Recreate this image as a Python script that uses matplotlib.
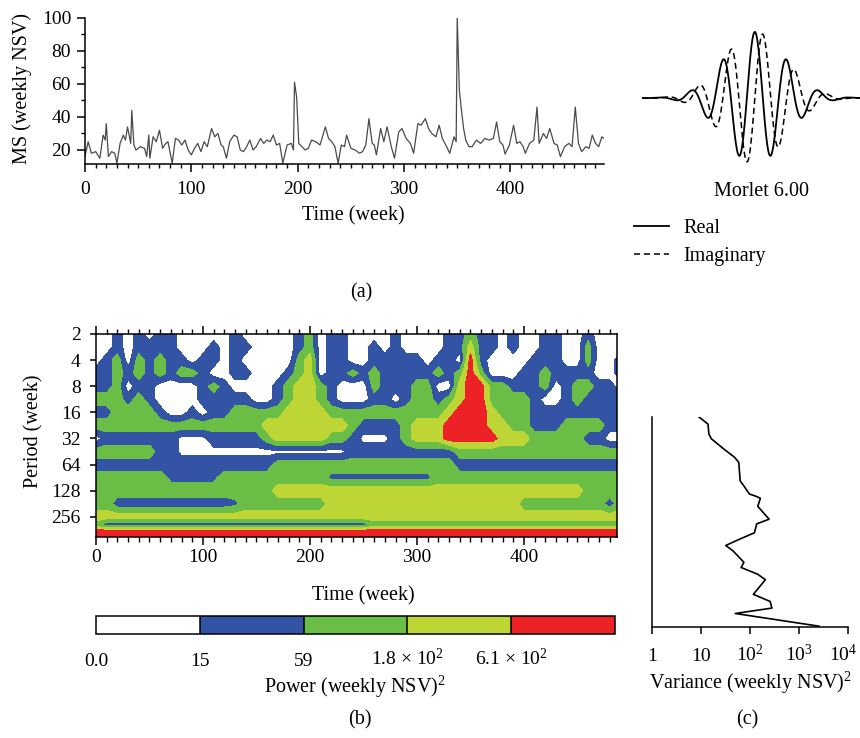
import numpy as np
import matplotlib
matplotlib.use('Agg')
import matplotlib.pyplot as plt
from matplotlib.lines import Line2D
from matplotlib.ticker import MultipleLocator, LogLocator, NullFormatter
from matplotlib.transforms import offset_copy

plt.rcParams['font.family'] = ['Liberation Serif', 'DejaVu Serif']
plt.rcParams['mathtext.fontset'] = 'custom'
plt.rcParams['mathtext.rm'] = 'Liberation Serif'
plt.rcParams['mathtext.it'] = 'Liberation Serif:italic'
plt.rcParams['mathtext.bf'] = 'Liberation Serif:bold'

# ---------------- data ----------------
# (a) weekly NSV series
ts_weeks = [0, 3, 6, 10, 14, 17, 19, 20, 22, 25, 28, 30, 33, 36, 38, 40, 43, 44, 46, 48,
            52, 56, 58, 60, 61, 64, 67, 70, 73, 76, 78, 82, 85, 88, 91, 94, 97, 100, 103,
            106, 109, 112, 115, 119, 122, 125, 128, 130, 133, 136, 140, 143, 146, 149,
            152, 155, 158, 161, 165, 168, 171, 174, 177, 180, 183, 186, 190, 194, 196,
            197, 199, 200, 201, 204, 207, 210, 213, 217, 221, 226, 229, 232, 235, 238,
            241, 244, 246, 250, 254, 258, 261, 264, 267, 270, 272, 274, 278, 281, 284,
            288, 291, 295, 298, 302, 306, 309, 313, 316, 320, 323, 326, 330, 333, 336,
            340, 343, 347, 349, 350, 351, 352, 354, 356, 358, 361, 364, 368, 372, 376,
            380, 384, 387, 390, 393, 395, 399, 403, 406, 409, 412, 414, 418, 422, 425,
            427, 431, 434, 437, 441, 444, 447, 451, 455, 458, 461, 464, 467, 471, 474,
            477, 480, 483, 486, 488]
ts_values = [16, 25, 18, 19, 15, 29, 26, 36, 16, 19, 18, 12, 24, 29, 26, 34, 24, 44, 23, 20,
             22, 21, 16, 29, 15, 28, 25, 32, 21, 24, 25, 12, 27, 26, 23, 26, 20, 17, 21,
             24, 19, 25, 22, 33, 28, 30, 23, 22, 15, 25, 29, 28, 20, 19,
             22, 26, 20, 22, 27, 24, 26, 25, 29, 23, 24, 12, 23, 24, 20,
             61, 52, 38, 24, 22, 20, 21, 26, 25, 23, 34, 27, 25, 22, 12,
             23, 22, 29, 21, 20, 18, 19, 23, 39, 24, 23, 17, 33, 25, 34,
             22, 15, 31, 33, 27, 24, 18, 36, 35, 39, 33, 30, 28, 35, 27,
             22, 18, 28, 25, 100, 79, 56, 44, 33, 26, 22, 22, 26, 24, 27,
             26, 27, 37, 25, 23, 17.5, 23, 35, 24, 25, 22, 18, 24, 26, 46,
             24, 30, 27, 33, 24, 23, 16, 22, 24, 22, 46, 24, 19, 22, 21,
             29, 24, 22, 28, 27]
time_ticks = [0, 100, 200, 300, 400]
ms_ticks = [20, 40, 60, 80, 100]

# Morlet wavelet parameter
morlet_w0 = 6.0

# (b) wavelet power class, weeks 0..490 step 10
# 0 white, 1 blue, 2 green, 3 yellow-green, 4 red; 'w' / 'b' = thin white / thin blue streak
grid_weeks = list(range(0, 500, 10))
period_rows = [2, 2.83, 4, 5.66, 8, 11.3, 16, 22.6, 32, 45.3, 64, 90.5, 128, 181,
               256, 315, 375, 437]
power_rows = [
    "0010101100" "0001000001" "2011000010" "0001121101" "0011001000",
    "0010111100" "0101100001" "2011001010" "0001131101" "0011002000",
    "0120212110" "1101000002" "3011001111" "1011041000" "0111002001",
    "1121212122" "1001100012" "3011212111" "1121242000" "1121111001",
    "1120110000" "1210000123" "3210002111" "2200344221" "1120122110",
    "2221210000" "1111100123" "3210001101" "2212344222" "2100121111",
    "1122221001" "0112222233" "3322222222" "2223444322" "2111111111",
    "2222222222" "2222223333" "3333211112" "3334444332" "2111222211",
    "01111111ww" "w111112333" "33221www12" "3334444433" "3222221100",
    "22222211ww" "wwwwwwwwww" "wwww111111" "1111222222" "2222222222",
    "1111111111" "1111111222" "2222222222" "2222111111" "1111111111",
    "2222222bbb" "bb22222222" "22bbbbbbbb" "bb22222222" "2222222222",
    "2222222222" "2222222333" "3333333333" "3333333333" "3333332222",
    "2211111111" "111b222222" "2233333333" "3333333333" "2222222212",
    "3333333333" "3333333333" "3333333333" "3333333333" "3333333333",
    "2111111111" "1111111111" "1111112222" "2222222222" "2222222222",
    "4444444444" "4444444444" "4444444444" "4444444444" "4444444444",
    "4444444444" "4444444444" "4444444444" "4444444444" "4444444444",
]
class_value = {'0': 0, '1': 1, '2': 2, '3': 3, '4': 4, 'w': 0.25, 'b': 1.25}
class_levels = [-0.5, 0.5, 1.5, 2.5, 3.5, 4.5]
power_colors = ['#FFFFFF', '#3353A4', '#6ABD45', '#BDD535', '#EC2227']
power_bounds = [0.0, 15, 59, 180, 610]
power_labels = ['0.0', '15', '59', '1.8 \u00d7 10$^2$', '6.1 \u00d7 10$^2$']
period_ticks = [2, 4, 8, 16, 32, 64, 128, 256]

# (c) global wavelet spectrum
gws_period = [2, 2.4, 3.1, 3.5, 4.6, 5.6, 6.4, 10.3, 11.6, 14.4, 15.3, 16.1, 19.8, 27.5,
              31, 39, 46, 54, 62, 83, 95, 113, 130, 189, 227, 269, 309, 428]
gws_variance = [9.1, 13.9, 14.5, 16.3, 30, 48, 59, 63, 74, 97, 133, 163, 144, 246,
                137, 123, 61, 32, 45, 75, 66, 144, 206, 117, 258, 280, 50, 2570]
var_ticks = [1, 10, 100, 1000, 10000]
var_labels = ['1', '10', '10$^2$', '10$^3$', '10$^4$']

# ---------------- layout ----------------
W, H = 860, 738
fig = plt.figure(figsize=(W / 100, H / 100), dpi=100)


def box(l, t, r, b):
    return [l / W, 1 - b / H, (r - l) / W, (b - t) / H]


def fx(x):
    return x / W


def fy(y):
    return 1 - y / H


TICK_FS = 14
LAB_FS = 14.5

# ---------------- (a) time series ----------------
ax_a = fig.add_axes(box(85, 18, 604, 164))
ax_a.plot(ts_weeks, ts_values, color='#4a4a4a', lw=0.9)
ax_a.set_xlim(0, 488)
ax_a.set_ylim(11.5, 100)
for s in ['top', 'right']:
    ax_a.spines[s].set_visible(False)
for s in ['left', 'bottom']:
    ax_a.spines[s].set_linewidth(1.1)
ax_a.set_xticks(time_ticks)
ax_a.set_yticks(ms_ticks)
ax_a.xaxis.set_minor_locator(MultipleLocator(10))
ax_a.yaxis.set_minor_locator(MultipleLocator(10))
ax_a.tick_params(which='major', direction='out', length=6, width=1.1, labelsize=TICK_FS)
ax_a.tick_params(which='minor', direction='out', length=3, width=1.0)
ax_a.tick_params(axis='x', pad=6)
ax_a.tick_params(axis='y', pad=4)
fig.text(fx(22), fy(88), 'MS (weekly NSV)', rotation=90, ha='center', va='center', fontsize=LAB_FS)
fig.text(fx(353), fy(216), 'Time (week)', ha='center', va='center', fontsize=LAB_FS)

# Morlet wavelet
ax_m = fig.add_axes(box(642, 22, 860, 174))
tt = np.linspace(-3.7, 3.45, 900)
env = np.exp(-tt ** 2 / 2)
ax_m.plot(tt, env * np.cos(morlet_w0 * tt), color='k', lw=1.3)
ax_m.plot(tt, env * np.sin(morlet_w0 * tt), color='k', lw=1.1, ls=(0, (4, 2.5)))
ax_m.set_xlim(-3.7, 3.45)
ax_m.set_ylim(-1.15, 1.15)
ax_m.axis('off')
fig.text(fx(762), fy(191), 'Morlet 6.00', ha='center', va='center', fontsize=LAB_FS)
fig.legend(handles=[Line2D([], [], color='k', lw=1.3), Line2D([], [], color='k', lw=1.1, ls=(0, (4, 2.5)))],
           labels=['Real', 'Imaginary'], loc='upper left', bbox_to_anchor=(fx(634), fy(219)),
           frameon=False, fontsize=LAB_FS, handlelength=1.75, handletextpad=0.7,
           labelspacing=0.45, borderaxespad=0, borderpad=0)
fig.text(fx(361), fy(293), '(a)', ha='center', va='center', fontsize=LAB_FS)

# ---------------- (b) wavelet power spectrum ----------------
ax_b = fig.add_axes(box(96, 334, 617, 537))
Z = np.array([[class_value[c] for c in row] for row in power_rows], dtype=float)
Y = np.log2(period_rows)
cf = ax_b.contourf(grid_weeks, Y, Z, levels=class_levels, colors=power_colors)
ax_b.set_xlim(0, 487)
ax_b.set_ylim(np.log2(437), 1)
for s in ax_b.spines.values():
    s.set_linewidth(1.1)
ax_b.set_xticks(time_ticks)
ax_b.xaxis.set_minor_locator(MultipleLocator(10))
ax_b.set_yticks(np.log2(period_ticks))
ax_b.set_yticklabels([str(p) for p in period_ticks])
ax_b.tick_params(which='major', direction='out', length=6, width=1.1, labelsize=TICK_FS, top=True)
ax_b.tick_params(which='minor', direction='out', length=3.5, width=1.0, top=True)
ax_b.tick_params(axis='y', which='major', length=4, pad=7)
ax_b.tick_params(axis='x', pad=3)
fig.text(fx(34), fy(431), 'Period (week)', rotation=90, ha='center', va='center', fontsize=LAB_FS)
fig.text(fx(363), fy(596), 'Time (week)', ha='center', va='center', fontsize=LAB_FS)

# colorbar
cax = fig.add_axes(box(96, 616, 615, 634))
cb = fig.colorbar(cf, cax=cax, orientation='horizontal', drawedges=True)
cb.set_ticks([])
cax.minorticks_off()
cb.outline.set_linewidth(1.1)
cb.dividers.set_color('k')
cb.dividers.set_linewidth(1.1)
for b, lab in zip(class_levels[:-1], power_labels):
    cax.text(b, -1.75, lab, transform=cax.get_xaxis_transform(), ha='center', va='baseline',
             fontsize=TICK_FS)
fig.text(fx(355), fy(687), 'Power (weekly NSV)$^2$', ha='center', va='center', fontsize=LAB_FS)
fig.text(fx(360), fy(720), '(b)', ha='center', va='center', fontsize=LAB_FS)

# ---------------- (c) global wavelet spectrum ----------------
ax_c = fig.add_axes(box(652, 417, 848, 627))
ax_c.plot(gws_variance, np.log2(gws_period), color='k', lw=1.2)
ax_c.set_xscale('log')
ax_c.set_xlim(1, 1e4)
ax_c.set_ylim(np.log2(437), 1)
for s in ['top', 'right']:
    ax_c.spines[s].set_visible(False)
for s in ['left', 'bottom']:
    ax_c.spines[s].set_linewidth(1.1)
ax_c.set_yticks([])
ax_c.set_xticks(var_ticks)
ax_c.set_xticklabels([])
ax_c.xaxis.set_minor_locator(LogLocator(base=10, subs=np.arange(2, 10)))
ax_c.xaxis.set_minor_formatter(NullFormatter())
ax_c.tick_params(which='major', direction='out', length=5, width=1.1)
ax_c.tick_params(which='minor', direction='out', length=3, width=1.0)
for i, (v, lab) in enumerate(zip(var_ticks, var_labels)):
    shift = -5 if i == len(var_ticks) - 1 else 0
    tr = offset_copy(ax_c.get_xaxis_transform(), fig=fig, x=shift, y=0, units='dots')
    ax_c.text(v, -0.16, lab, transform=tr, ha='center', va='baseline', fontsize=TICK_FS)
fig.text(fx(750), fy(683), 'Variance (weekly NSV)$^2$', ha='center', va='center', fontsize=LAB_FS)
fig.text(fx(747), fy(720), '(c)', ha='center', va='center', fontsize=LAB_FS)

fig.savefig('out.png', dpi=100)
